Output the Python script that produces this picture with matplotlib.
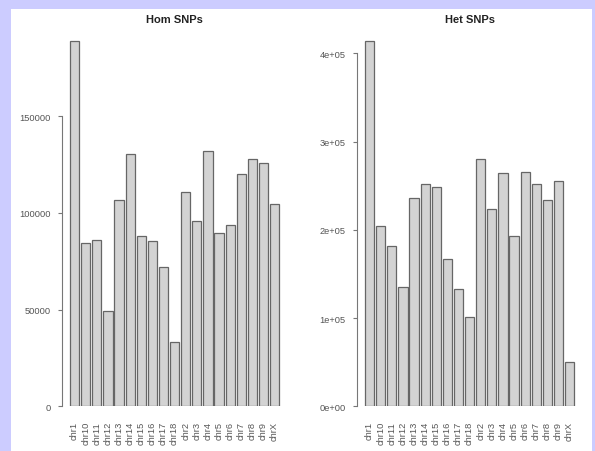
import matplotlib
matplotlib.use('Agg')
import matplotlib.pyplot as plt
import numpy as np

plt.rcParams['font.family'] = ['Liberation Sans', 'DejaVu Sans']

# chromosomes, in R's alphabetical order
chroms = ['chr1', 'chr10', 'chr11', 'chr12', 'chr13', 'chr14', 'chr15', 'chr16',
          'chr17', 'chr18', 'chr2', 'chr3', 'chr4', 'chr5', 'chr6', 'chr7',
          'chr8', 'chr9', 'chrX']

hom_snps = [188900, 84400, 86000, 49100, 106800, 130400, 88200, 85500, 72200,
            33100, 110800, 95600, 132000, 89400, 93700, 119900, 128000, 125900,
            104600]
het_snps = [413900, 204300, 181300, 134800, 236400, 251900, 248800, 166600,
            132600, 100800, 279900, 223900, 264400, 193300, 265500, 252200,
            234100, 255600, 50200]

hom_ticks = [0, 50000, 100000, 150000]
hom_tick_labels = ['0', '50000', '100000', '150000']
het_ticks = [0, 100000, 200000, 300000, 400000]
het_tick_labels = ['0e+00', '1e+05', '2e+05', '3e+05', '4e+05']

W, H = 595, 452
fig = plt.figure(figsize=(W / 100, H / 100), dpi=100)
fig.patch.set_facecolor('#CCCCFF')
# white device area inside the lavender frame
fig.patches.append(plt.Rectangle((11 / W, 0), (592 - 11) / W, (H - 10) / H,
                                 transform=fig.transFigure, facecolor='white',
                                 edgecolor='none', zorder=-10))

axis_col = '#777777'
text_col = '#555555'


def r_barplot(left_px, values, ticks, tick_labels, title):
    ax = fig.add_axes([left_px / W, (H - 407.3) / H, 226 / W, 379.9 / H])
    ax.patch.set_alpha(0)
    n = len(values)
    x = 0.7 + 1.2 * np.arange(n)
    ax.bar(x, values, width=1.0, color='#D3D3D3', edgecolor='#666666',
           linewidth=0.9)
    span = 1.2 * n - 0.2
    ax.set_xlim(0.2 - 0.04 * span, 0.2 + span + 0.04 * span)
    ax.set_ylim(0, max(values) * 1.04)
    for s in ['top', 'right', 'bottom']:
        ax.spines[s].set_visible(False)
    ax.spines['left'].set_bounds(ticks[0], ticks[-1])
    ax.spines['left'].set_color(axis_col)
    ax.spines['left'].set_linewidth(0.8)
    ax.set_yticks(ticks)
    ax.set_yticklabels(tick_labels)
    ax.tick_params(axis='y', length=3, width=0.8, color=axis_col, pad=5,
                   labelsize=6.7, labelcolor=text_col)
    ax.set_xticks(x)
    ax.set_xticklabels(chroms, rotation=90)
    ax.tick_params(axis='x', length=0, pad=10.5, labelsize=6.7,
                   labelcolor=text_col)
    ax.set_title(title, fontsize=8, fontweight='bold', color='#222222', pad=3)
    return ax


r_barplot(61.6, hom_snps, hom_ticks, hom_tick_labels, 'Hom SNPs')
r_barplot(356.6, het_snps, het_ticks, het_tick_labels, 'Het SNPs')

fig.savefig('out.png', dpi=100, facecolor=fig.get_facecolor())
